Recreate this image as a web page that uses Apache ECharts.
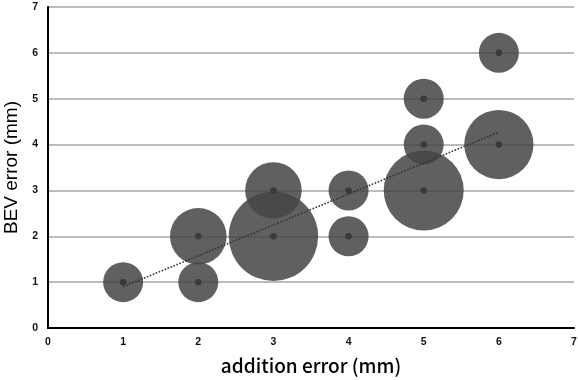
<!DOCTYPE html>
<html><head><meta charset="utf-8">
<script src="https://cdn.jsdelivr.net/npm/echarts@6/dist/echarts.min.js"></script>
<style>html,body{margin:0;padding:0;background:#fff}#c{width:578px;height:380px}</style>
</head><body><div id="c"></div>
<script>
// bubble data: addition error (x), BEV error (y), number of cases (bubble size)
const additionError = [1, 2, 2, 3, 3, 4, 4, 5, 5, 5, 6, 6];
const bevError      = [1, 1, 2, 2, 3, 2, 3, 3, 4, 5, 6, 4];
const caseCount     = [1, 1, 2, 5, 2, 1, 1, 4, 1, 1, 1, 3];
const trendX = [1, 6];
const trendY = [0.9, 4.27];
const xTicks = [0, 1, 2, 3, 4, 5, 6, 7];
const yTicks = [0, 1, 2, 3, 4, 5, 6, 7];

const bubbles = additionError.map((x, i) => [x, bevError[i], caseCount[i]]);
const trend = trendX.map((x, i) => [x, trendY[i]]);

const chart = echarts.init(document.getElementById('c'));
const tickFont = {fontFamily: "'Liberation Sans', Arial, sans-serif", fontWeight: 'bold', fontSize: 10.5, color: '#111'};
chart.setOption({
  animation: false,
  grid: {left: 48, right: 4, top: 7, bottom: 52, containLabel: false, outerBoundsMode: 'none'},
  xAxis: {
    type: 'value', min: xTicks[0], max: xTicks[xTicks.length - 1], interval: 1,
    axisLine: {onZero: false, lineStyle: {color: '#000', width: 2}},
    axisTick: {show: false},
    splitLine: {show: false},
    axisLabel: Object.assign({margin: 9}, tickFont),
    name: 'addition error (mm)', nameLocation: 'middle', nameGap: 28,
    nameTextStyle: {fontFamily: "'Noto Sans CJK JP', sans-serif", fontWeight: 500, fontSize: 19, color: '#000'}
  },
  yAxis: {
    type: 'value', min: yTicks[0], max: yTicks[yTicks.length - 1], interval: 1,
    axisLine: {show: true, lineStyle: {color: '#000', width: 2}},
    axisTick: {show: false},
    splitLine: {show: true, lineStyle: {color: '#a6a6a6', width: 1.5}},
    axisLabel: Object.assign({margin: 10}, tickFont),
    name: 'BEV error (mm)', nameLocation: 'middle', nameGap: 26,
    nameTextStyle: {fontFamily: "'Liberation Sans', Arial, sans-serif", fontSize: 19, color: '#000'}
  },
  series: [
    {
      type: 'scatter', data: bubbles, z: 2,
      symbolSize: d => 40 * Math.sqrt(d[2]),
      itemStyle: {color: 'rgb(70,70,70)', opacity: 0.86},
      emphasis: {disabled: true}
    },
    {
      type: 'scatter', data: bubbles, z: 3, symbolSize: 6.5,
      itemStyle: {color: '#3a3a3a', opacity: 1},
      emphasis: {disabled: true}
    },
    {
      type: 'line', data: trend, z: 4, symbol: 'none',
      lineStyle: {color: '#333', width: 1.6, type: [1.6, 1.6]}
    }
  ]
});
</script></body></html>
